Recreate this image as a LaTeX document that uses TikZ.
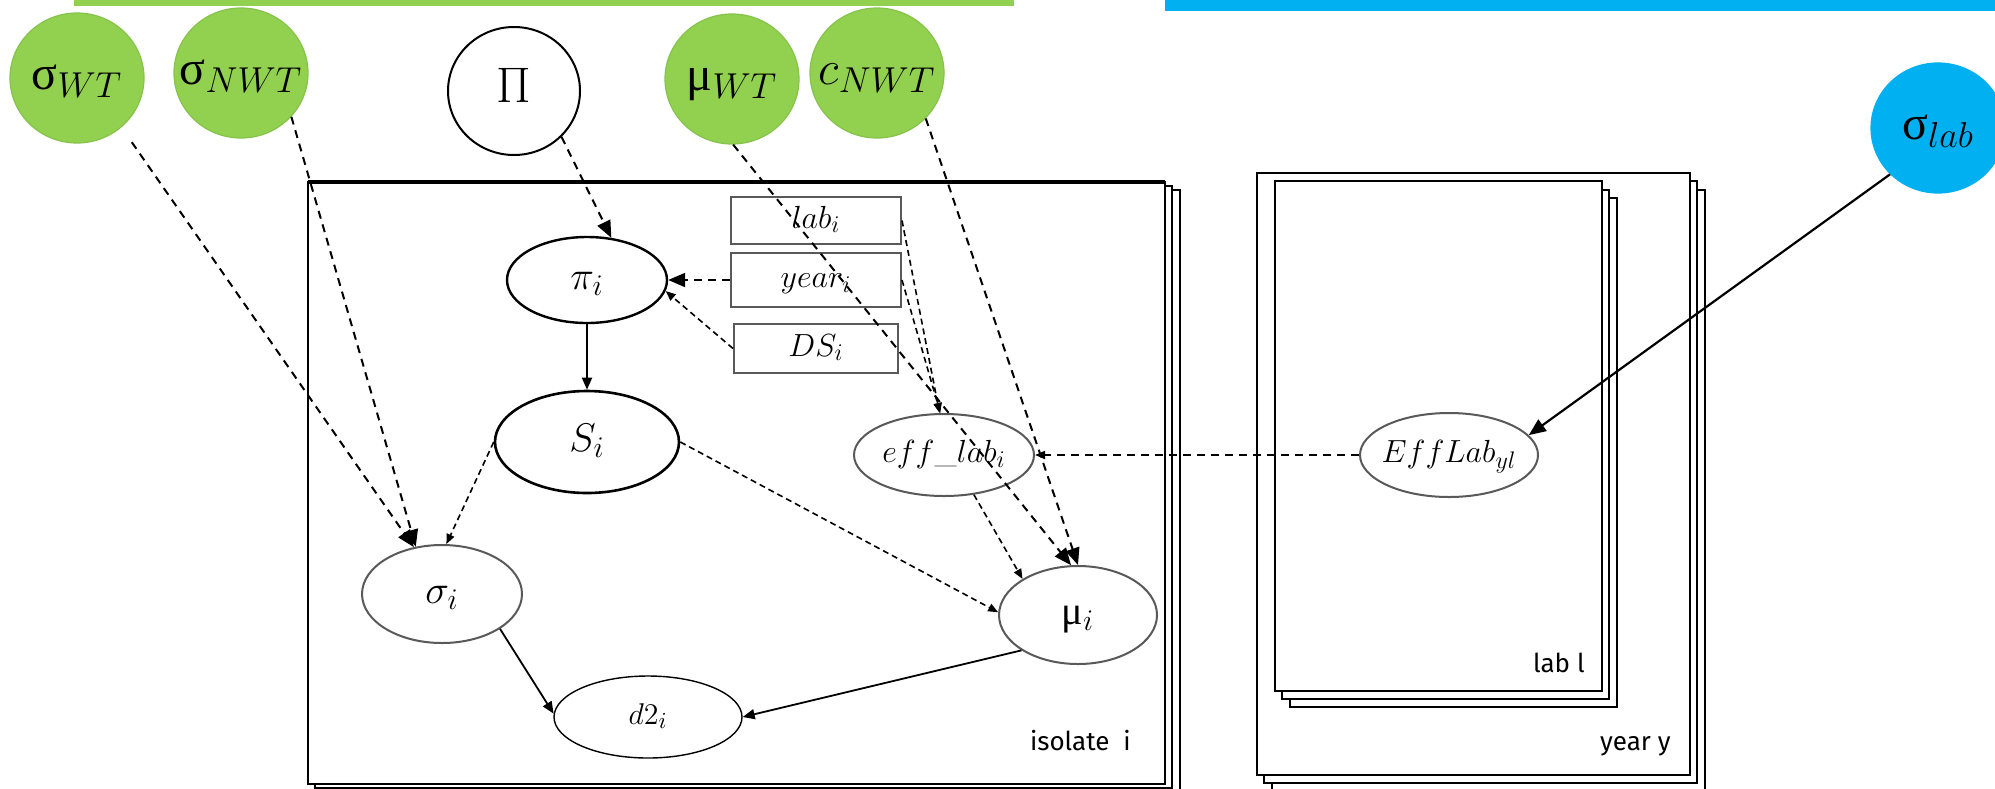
\RequirePackage{fix-cm}
\documentclass[tikz,border=0pt]{standalone}
\usepackage{fontspec}
\newfontfamily\grk{Liberation Serif}
\newfontfamily\plabfont{Fira Sans}
\usetikzlibrary{arrows.meta,shapes.geometric}
\definecolor{gfill}{HTML}{92D050}
\definecolor{gline}{HTML}{86C34A}
\definecolor{bfill}{HTML}{00B0F0}
\definecolor{gbord}{HTML}{595959}
\DeclareMathSizes{24}{24}{18}{14}
\DeclareMathSizes{25}{25}{19}{14}
\DeclareMathSizes{20}{20}{15}{12}
\DeclareMathSizes{16}{16}{12}{10}
\DeclareMathSizes{15}{15}{11.5}{9}
\newcommand{\ctrtxt}[1]{\makebox[0pt]{\raisebox{-0.55ex}[0pt][0pt]{#1}}}
\begin{document}
\begin{tikzpicture}[x=0.5pt,y=-0.5pt,
  hyper/.style={ellipse,inner sep=0pt,minimum width=67pt,minimum height=65pt,fill=gfill,draw=gline,line width=0.6pt,font=\fontsize{24}{28}\selectfont},
  bhyper/.style={hyper,fill=bfill,draw=bfill},
  pinode/.style={ellipse,inner sep=0pt,minimum width=66pt,minimum height=64pt,fill=white,draw=black,line width=1pt,font=\fontsize{25}{29}\selectfont},
  blk/.style={ellipse,inner sep=0pt,fill=white,draw=black,line width=1.2pt,font=\fontsize{20}{24}\selectfont},
  gry/.style={ellipse,inner sep=0pt,fill=white,draw=gbord,line width=1pt,font=\fontsize{20}{24}\selectfont},
  cov/.style={rectangle,inner sep=0pt,fill=white,draw=gbord,line width=1pt,minimum width=85pt,font=\fontsize{16}{19}\selectfont},
  plate/.style={draw=black,fill=white,line width=0.9pt},
  platelab/.style={font=\plabfont\fontsize{13}{16}\selectfont,inner sep=0pt,anchor=east},
  dline/.style={line width=1pt,dash pattern=on 4pt off 3pt},
  fline/.style={line width=0.8pt,dash pattern=on 3pt off 2pt},
  sline/.style={line width=0.9pt},
  bigtip/.style={-{Triangle[length=8.5pt,width=7pt]}},
  midtip/.style={-{Triangle[length=6pt,width=5pt]}},
  smalltip/.style={-{Triangle[length=5pt,width=4pt]}}
]
\useasboundingbox (0,0) rectangle (1995,788);
\clip (0,0) rectangle (1995,788);

% top bars
\fill[gfill] (74,0) rectangle (1014,6);
\fill[bfill] (1165,0) rectangle (1995,11);

% isolate plate
\draw[plate] (323,190) rectangle (1180,792);
\draw[plate] (315,186) rectangle (1172,788);
\draw[plate] (308,182) rectangle (1165,784);
\draw[line width=1.8pt] (308,182) -- (1165,182);
\node[platelab] (isolab) at (1131,740) {isolate\ \ i};

% year plate
\draw[plate] (1272,190) rectangle (1705,791);
\draw[plate] (1264,181) rectangle (1697,783);
\draw[plate] (1257,173) rectangle (1690,775);
\node[platelab] (yearlab) at (1671,746) {year y};

% lab plate
\draw[plate] (1290,198) rectangle (1617,707);
\draw[plate] (1282,190) rectangle (1609,699);
\draw[plate] (1275,181) rectangle (1602,691);
\node[platelab] (lablab) at (1585,663) {lab l};

% hyperparameters
\node[hyper] (sWT) at (77,78) {\ctrtxt{{\grk σ}$_{WT}$}};
\node[hyper] (sNWT) at (241,73) {\ctrtxt{{\grk σ}$_{NWT}$}};
\node[pinode] (Pi) at (514,91) {\ctrtxt{$\Pi$}};
\node[hyper] (muWT) at (732,79) {\ctrtxt{{\grk μ}$_{WT}$}};
\node[hyper] (cNWT) at (877,73) {\ctrtxt{$c_{NWT}$}};
\node[bhyper] (slab) at (1938,128) {\ctrtxt{{\grk σ}$_{lab}$}};

% isolate-level nodes
\node[blk,minimum width=80pt,minimum height=43pt] (pii) at (587,280) {\ctrtxt{$\pi_i$}};
\node[blk,line width=1.3pt,minimum width=92pt,minimum height=51pt] (Si) at (587,442) {\ctrtxt{$S_i$}};
\node[gry,minimum width=80pt,minimum height=49pt] (sigi) at (442,594) {\ctrtxt{$\sigma_i$}};
\node[gry,minimum width=79pt,minimum height=49pt] (mui) at (1078,615) {\ctrtxt{{\grk μ}$_i$}};
\node[blk,line width=0.7pt,minimum width=94pt,minimum height=41pt,font=\fontsize{15}{18}\selectfont] (d2i) at (648,717) {\ctrtxt{$d2_i$}};
\node[gry,minimum width=90pt,minimum height=41pt,font=\fontsize{16}{19}\selectfont] (effi) at (944,455) {\ctrtxt{$eff\_lab_i$}};
\node[gry,minimum width=89pt,minimum height=42pt,font=\fontsize{16}{19}\selectfont] (EffLab) at (1449,455) {\ctrtxt{$EffLab_{yl}$}};

% covariate boxes
\node[cov,minimum height=23.5pt] (labbox) at (816,220.5) {\ctrtxt{$lab_i$}};
\node[cov,minimum height=27pt] (yearbox) at (816,280) {\ctrtxt{$year_i$}};
\node[cov,minimum width=82pt,minimum height=24.5pt] (DSbox) at (816,348.5) {\ctrtxt{$DS_i$}};

% connectors
\draw[dline,bigtip,shorten <=9pt] (sWT.-48) -- (sigi.121);
\draw[dline,bigtip] (sNWT.-41) -- (sigi.119);
\draw[dline,bigtip] (Pi.-44) -- (pii.60);
\draw[dline,bigtip] (muWT.-89) -- (mui.98);
\draw[dline,bigtip] (cNWT.-43) -- (mui.90);
\draw[dline,bigtip] (yearbox.west) -- (pii.east);
\draw[fline,smalltip] (DSbox.west) -- (pii.-8);
\draw[fline,smalltip] (labbox.east) -- (effi.96);
\draw[fline,smalltip] (yearbox.east) -- (effi.95);
\draw[dline,smalltip] (EffLab.west) -- (effi.east);
\draw[fline,smalltip] (effi.-53) -- (mui.147);
\draw[fline,smalltip] (Si.west) -- (sigi.85);
\draw[fline,smalltip] (Si.east) -- (mui.178);
\draw[sline,midtip] (pii.south) -- (Si.north);
\draw[sline,midtip] (sigi.-31) -- (d2i.178);
\draw[sline,midtip] (mui.212) -- (d2i.east);
\draw[line width=1.1pt,bigtip] (slab.224) -- (EffLab.14);
\end{tikzpicture}
\end{document}
